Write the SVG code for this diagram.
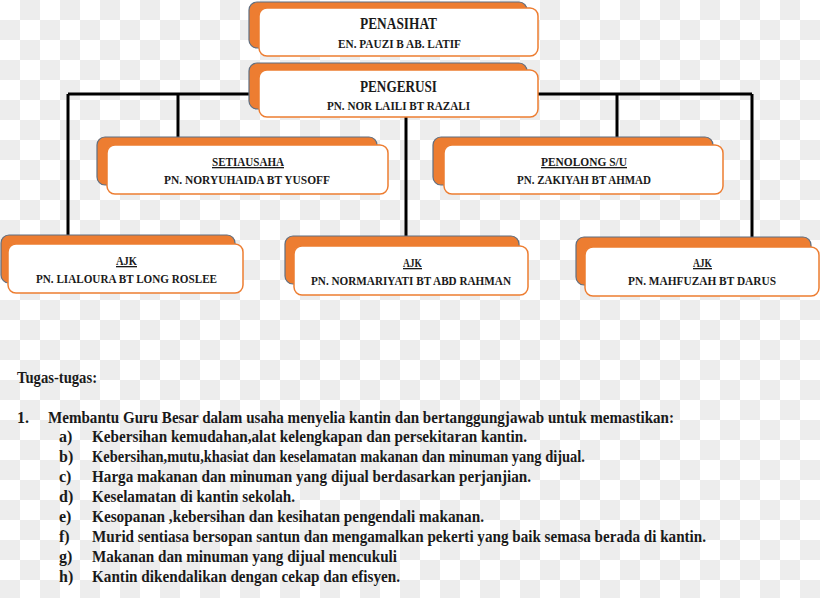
<svg xmlns="http://www.w3.org/2000/svg" width="820" height="598" viewBox="0 0 820 598">
<defs>
<pattern id="chk" x="0" y="0" width="40" height="40" patternUnits="userSpaceOnUse">
<rect width="40" height="40" fill="#ffffff"/>
<rect x="20" y="0" width="20" height="20" fill="#ededed"/>
<rect x="0" y="20" width="20" height="20" fill="#ededed"/>
</pattern>
</defs>
<style>
.back{fill:#ed7d31;stroke:#5f6f82;stroke-width:1.2}
.front{fill:#ffffff;stroke:#ed7d31;stroke-width:1.5}
.t{font-family:"Liberation Serif","DejaVu Serif",serif;font-weight:bold;fill:#1a1a1a;text-anchor:middle}
.h{font-size:16px}
.s{font-size:13px}
.u{text-decoration:underline}
.conn{stroke:#000;stroke-width:3;fill:none}
.body{font-family:"Liberation Serif","DejaVu Serif",serif;font-weight:bold;font-size:16px;fill:#1a1a1a}
</style>
<rect width="820" height="598" fill="url(#chk)"/>
<g id="connectors">
<path class="conn" d="M68,94 H752"/>
<path class="conn" d="M68,94 V236"/>
<path class="conn" d="M752,94 V237"/>
<path class="conn" d="M178,94 V138"/>
<path class="conn" d="M617,94 V138"/>
<path class="conn" d="M406,110 V237"/>
</g>
<g id="penasihat">
<rect class="back" x="249" y="2" width="278" height="46" rx="8"/>
<rect class="front" x="259" y="8" width="279" height="48" rx="8"/>
<text class="t h" x="398.5" y="29" textLength="77" lengthAdjust="spacingAndGlyphs">PENASIHAT</text>
<text class="t s" x="399.5" y="48" textLength="123" lengthAdjust="spacingAndGlyphs">EN. PAUZI B AB. LATIF</text>
</g>
<g id="pengerusi">
<rect class="back" x="249" y="63" width="278" height="46" rx="8"/>
<rect class="front" x="259" y="70" width="279" height="47" rx="8"/>
<text class="t h" x="398.5" y="92" textLength="77" lengthAdjust="spacingAndGlyphs">PENGERUSI</text>
<text class="t s" x="398.5" y="110" textLength="143" lengthAdjust="spacingAndGlyphs">PN. NOR LAILI BT RAZALI</text>
</g>
<g id="setiausaha">
<rect class="back" x="97" y="137" width="280" height="48" rx="8"/>
<rect class="front" x="107" y="145" width="281" height="49" rx="8"/>
<text class="t s u" x="248" y="166" textLength="72" lengthAdjust="spacingAndGlyphs">SETIAUSAHA</text>
<text class="t s" x="247" y="184" textLength="166" lengthAdjust="spacingAndGlyphs">PN. NORYUHAIDA BT  YUSOFF</text>
</g>
<g id="penolong">
<rect class="back" x="433" y="137" width="280" height="48" rx="8"/>
<rect class="front" x="444" y="145" width="279" height="49" rx="8"/>
<text class="t s u" x="584" y="166" textLength="86" lengthAdjust="spacingAndGlyphs">PENOLONG S/U</text>
<text class="t s" x="584" y="184" textLength="134" lengthAdjust="spacingAndGlyphs">PN. ZAKIYAH BT AHMAD</text>
</g>
<g id="ajk1">
<rect class="back" x="1" y="235" width="234" height="48" rx="8"/>
<rect class="front" x="8" y="244" width="235" height="49" rx="8"/>
<text class="t s u" x="126.5" y="265" textLength="21" lengthAdjust="spacingAndGlyphs">AJK</text>
<text class="t s" x="126.5" y="283" textLength="181" lengthAdjust="spacingAndGlyphs">PN. LIALOURA BT LONG ROSLEE</text>
</g>
<g id="ajk2">
<rect class="back" x="285" y="236" width="234" height="48" rx="8"/>
<rect class="front" x="294" y="246" width="234" height="49" rx="8"/>
<text class="t s u" x="412.5" y="267" textLength="19" lengthAdjust="spacingAndGlyphs">AJK</text>
<text class="t s" x="411" y="285" textLength="200" lengthAdjust="spacingAndGlyphs">PN. NORMARIYATI BT ABD RAHMAN</text>
</g>
<g id="ajk3">
<rect class="back" x="576" y="237" width="235" height="48" rx="8"/>
<rect class="front" x="585" y="247" width="234" height="49" rx="8"/>
<text class="t s u" x="702.5" y="267" textLength="19" lengthAdjust="spacingAndGlyphs">AJK</text>
<text class="t s" x="702" y="285" textLength="148" lengthAdjust="spacingAndGlyphs">PN. MAHFUZAH BT DARUS</text>
</g>
<g id="tugas">
<text class="body" x="17" y="383" textLength="80" lengthAdjust="spacingAndGlyphs">Tugas-tugas:</text>
<text class="body" x="17" y="423" font-size="12">1.</text>
<text class="body" x="48" y="423" textLength="626" lengthAdjust="spacingAndGlyphs">Membantu Guru Besar dalam usaha menyelia kantin dan bertanggungjawab untuk memastikan:</text>
<text class="body" x="59" y="442">a)</text>
<text class="body" x="92" y="442" textLength="435" lengthAdjust="spacingAndGlyphs">Kebersihan kemudahan,alat kelengkapan dan persekitaran kantin.</text>
<text class="body" x="59" y="462">b)</text>
<text class="body" x="92" y="462" textLength="493" lengthAdjust="spacingAndGlyphs">Kebersihan,mutu,khasiat dan keselamatan makanan dan minuman yang dijual.</text>
<text class="body" x="59" y="482">c)</text>
<text class="body" x="92" y="482" textLength="439" lengthAdjust="spacingAndGlyphs">Harga makanan dan minuman yang dijual berdasarkan perjanjian.</text>
<text class="body" x="59" y="502">d)</text>
<text class="body" x="92" y="502" textLength="203" lengthAdjust="spacingAndGlyphs">Keselamatan di kantin sekolah.</text>
<text class="body" x="59" y="522">e)</text>
<text class="body" x="92" y="522" textLength="392" lengthAdjust="spacingAndGlyphs">Kesopanan ,kebersihan dan kesihatan pengendali makanan.</text>
<text class="body" x="59" y="542">f)</text>
<text class="body" x="92" y="542" textLength="614" lengthAdjust="spacingAndGlyphs">Murid sentiasa bersopan santun dan mengamalkan pekerti yang baik semasa berada di kantin.</text>
<text class="body" x="59" y="562">g)</text>
<text class="body" x="92" y="562" textLength="305" lengthAdjust="spacingAndGlyphs">Makanan dan minuman yang dijual mencukuli</text>
<text class="body" x="59" y="582">h)</text>
<text class="body" x="92" y="582" textLength="308" lengthAdjust="spacingAndGlyphs">Kantin dikendalikan dengan cekap dan efisyen.</text>
</g>
</svg>
